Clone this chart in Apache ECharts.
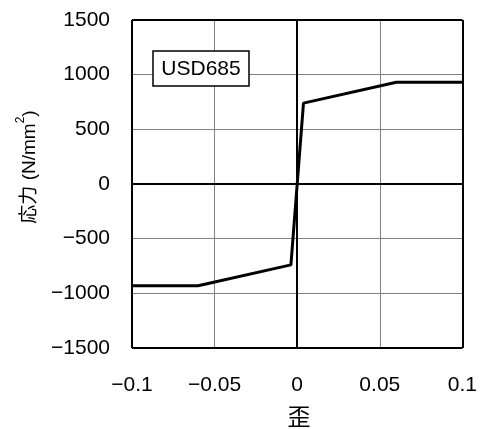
<!DOCTYPE html>
<html><head><meta charset="utf-8">
<script src="https://cdn.jsdelivr.net/npm/echarts@6/dist/echarts.min.js"></script>
<style>html,body{margin:0;padding:0;background:#fff}#c{width:480px;height:429px}</style>
</head><body><div id="c"></div>
<script>
const strain = [-0.1, -0.06, -0.0038, 0, 0.0038, 0.06, 0.1];
const stress = [-930, -930, -740, 0, 740, 930, 930];
const xTicks = [-0.1, -0.05, 0, 0.05, 0.1];
const yTicks = [-1500, -1000, -500, 0, 500, 1000, 1500];
const xLabel = '歪';
const yLabel = '応力 (N/mm';
const boxLabel = 'USD685';
const FONT = '"Liberation Sans", "Noto Sans CJK JP", sans-serif';
const fmt = v => String(v).replace('-', '\u2212');
const chart = echarts.init(document.getElementById('c'));
chart.setOption({
  animation: false,
  backgroundColor: '#fff',
  grid: {left: 132, right: 13, top: 20, bottom: 81, show: false},
  xAxis: {
    type: 'value', min: xTicks[0], max: xTicks[xTicks.length - 1], interval: 0.05,
    axisLine: {show: false}, axisTick: {show: false},
    splitLine: {show: true, lineStyle: {color: '#808080', width: 1}},
    axisLabel: {color: '#000', fontSize: 21, fontFamily: FONT, margin: 27,
      formatter: v => xTicks.some(t => Math.abs(t - v) < 1e-9) ? fmt(+v.toFixed(2)) : ''}
  },
  yAxis: {
    type: 'value', min: yTicks[0], max: yTicks[yTicks.length - 1], interval: 500,
    axisLine: {show: false}, axisTick: {show: false},
    splitLine: {show: true, lineStyle: {color: '#808080', width: 1}},
    axisLabel: {color: '#000', fontSize: 21, fontFamily: FONT, margin: 22, padding: [5, 0, 0, 0],
      formatter: v => yTicks.includes(v) ? fmt(v) : ''}
  },
  series: [{
    type: 'line', data: strain.map((s, i) => [s, stress[i]]), clip: false,
    symbol: 'none', lineStyle: {color: '#000', width: 3}, z: 5,
    markLine: {silent: true, symbol: 'none', label: {show: false},
      lineStyle: {color: '#000', width: 2, type: 'solid'},
      data: [{xAxis: 0}, {yAxis: 0},
             {xAxis: xTicks[0]}, {xAxis: xTicks[xTicks.length - 1]},
             {yAxis: yTicks[0]}, {yAxis: yTicks[yTicks.length - 1]}]}
  }],
  graphic: [
    {type: 'rect', z: 10, shape: {x: 153, y: 51, width: 96, height: 35},
      style: {fill: '#fff', stroke: '#000', lineWidth: 1.5}},
    {type: 'text', x: 201, y: 69, z: 11,
      style: {text: boxLabel, font: '21px ' + FONT, fill: '#000', align: 'center', verticalAlign: 'middle'}},
    {type: 'text', x: 27, y: 167, rotation: Math.PI / 2, z: 10,
      style: {text: '{a|' + yLabel + '}{s|2}{a|)}', align: 'center', verticalAlign: 'middle',
        rich: {a: {font: '19px ' + FONT, fill: '#000', verticalAlign: 'bottom', lineHeight: 24},
               s: {font: '12px ' + FONT, fill: '#000', verticalAlign: 'top', lineHeight: 24, padding: [0, 0, 12, 0]}}}},
    {type: 'text', x: 299, y: 419, z: 10,
      style: {text: xLabel, font: '23px ' + FONT, fill: '#000', align: 'center', verticalAlign: 'middle'}}
  ]
});
</script></body></html>
